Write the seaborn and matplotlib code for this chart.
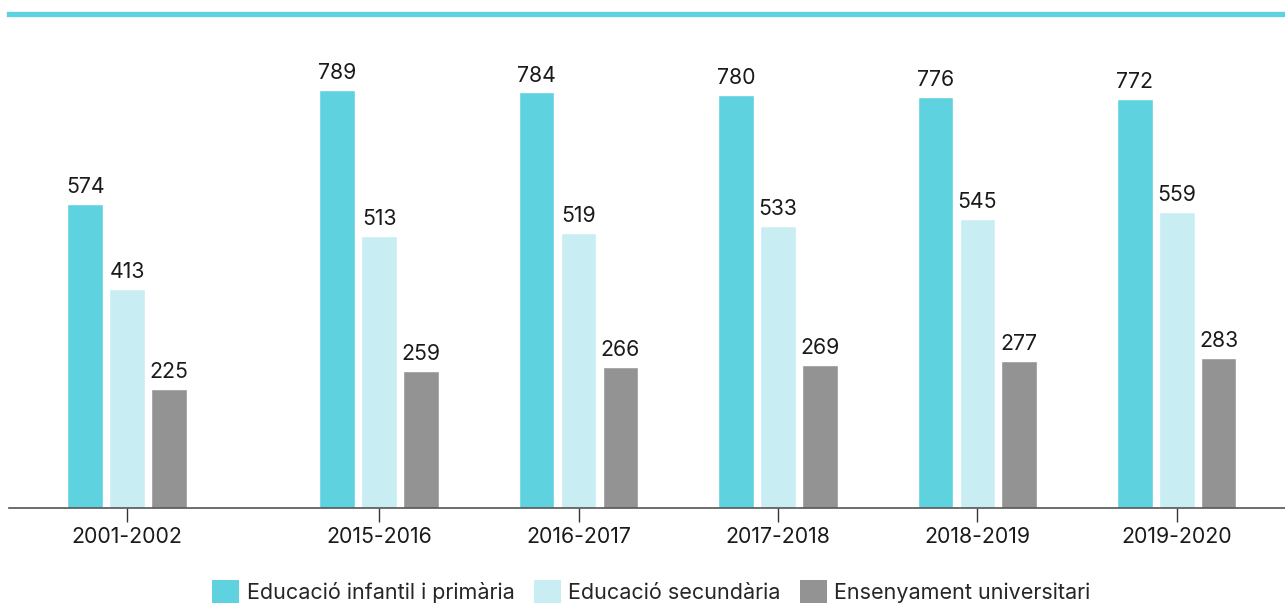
import numpy as np
import pandas as pd
import matplotlib
matplotlib.use("Agg")
import matplotlib.pyplot as plt
from matplotlib.patches import Patch
import seaborn as sns

years = ["2001-2002", "2015-2016", "2016-2017", "2017-2018", "2018-2019", "2019-2020"]
series_names = ["Educació infantil i primària", "Educació secundària", "Ensenyament universitari"]
infantil = [574, 789, 784, 780, 776, 772]
secundaria = [413, 513, 519, 533, 545, 559]
universitari = [225, 259, 266, 269, 277, 283]
colors = ["#5fd2e0", "#c8eef4", "#939393"]

sns.set_theme(style="white")
plt.rcParams["font.family"] = ["Inter", "DejaVu Sans"]

# extra gap after the first (older) period
gap_after_first = 0.264
pos = [i + (gap_after_first if i > 0 else 0.0) for i in range(len(years))]

rows = []
for name, vals in zip(series_names, [infantil, secundaria, universitari]):
    for p, y, v in zip(pos, years, vals):
        rows.append({"pos": p, "year": y, "serie": name, "valor": v})
df = pd.DataFrame(rows)

W, H = 1285, 603
fig = plt.figure(figsize=(W / 100, H / 100), dpi=100)
ax = fig.add_axes([9 / W, (H - 508) / H, 1 - 9 / W, (508 - 13.5) / H])

sns.barplot(data=df, x="pos", y="valor", hue="serie", hue_order=series_names,
            palette=colors, native_scale=True, width=0.63, gap=0.15,
            saturation=1, errorbar=None, legend=False, ax=ax)

fs = 15.3
for c in ax.containers:
    ax.bar_label(c, fmt="%d", padding=5, fontsize=fs, color="#1a1a1a")

ax.set_xlim(-0.592, 5.807)
ax.set_ylim(0, 933)
ax.set_xticks(pos, years)
ax.set_yticks([])
ax.set_xlabel("")
ax.set_ylabel("")
ax.tick_params(axis="x", length=10, width=1, color="#333333", pad=4,
               labelsize=fs, labelcolor="#1a1a1a", bottom=True)
for s in ["left", "right"]:
    ax.spines[s].set_visible(False)
ax.spines["bottom"].set_color("#555555")
ax.spines["bottom"].set_linewidth(1.2)
ax.spines["top"].set_color("#5fd2e0")
ax.spines["top"].set_linewidth(3.8)

handles = [Patch(facecolor=c, edgecolor="none") for c in colors]
fig.legend(handles, series_names, loc="lower center", bbox_to_anchor=(0.507, 0.0),
           ncol=3, frameon=False, fontsize=15.5, handlelength=1.25, handleheight=1.25,
           handletextpad=0.35, columnspacing=0.9, borderpad=0.0, borderaxespad=0.0)

fig.savefig("out.png", dpi=100)
